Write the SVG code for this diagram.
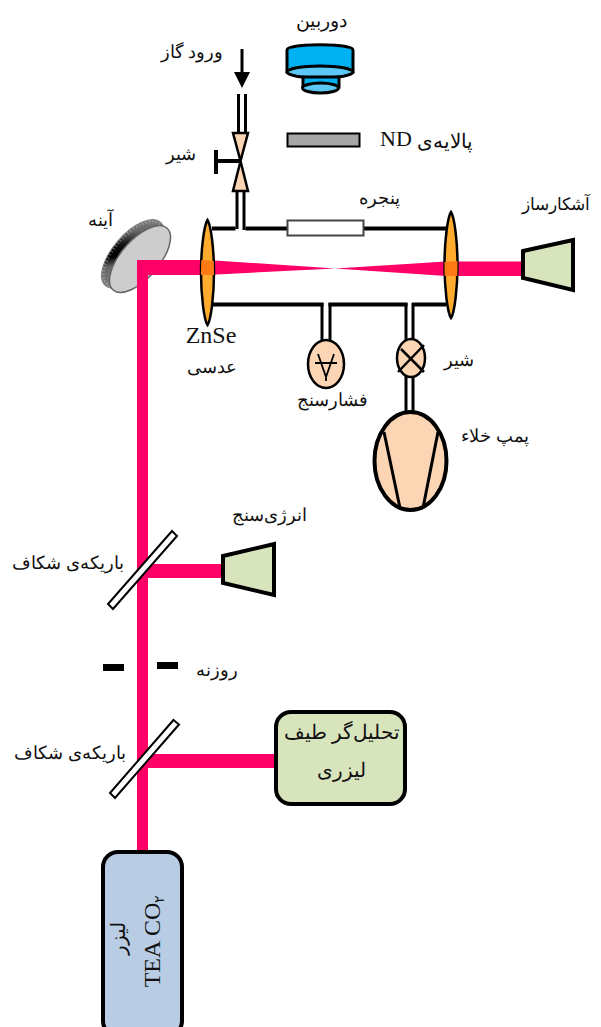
<svg xmlns="http://www.w3.org/2000/svg" width="601" height="1027" viewBox="0 0 601 1027">
<style>
.t{font-family:"Liberation Serif","Noto Sans",serif;font-size:17.500px;fill:#111;text-anchor:middle;direction:rtl}
.l{font-family:"Liberation Serif",serif;fill:#111;text-anchor:middle}
.s{stroke:#000;fill:none}
.p{stroke:#000;stroke-width:3;fill:none}
.b{fill:#ff0066}
.lens{fill:#ffab2e;stroke:#000;stroke-width:2.5}
.det{fill:#d8e4bc;stroke:#000;stroke-width:4}
.peach{fill:#fcd5b5;stroke:#000}
.bs{fill:#fff;stroke:#000;stroke-width:2}
</style>
<defs>
<linearGradient id="rim" gradientUnits="userSpaceOnUse" x1="100" y1="287" x2="165" y2="217">
<stop offset="0" stop-color="#999"/><stop offset=".38" stop-color="#666"/><stop offset=".48" stop-color="#000"/><stop offset=".6" stop-color="#111"/><stop offset=".72" stop-color="#666"/><stop offset="1" stop-color="#aaa"/>
</linearGradient>
<clipPath id="c1"><path d="M207.500 220C211 225 214 250 214 272.500C214 295 211 320 207.500 325C204 320 201 295 201 272.500C201 250 204 225 207.500 220z"/></clipPath>
<clipPath id="c2"><path d="M451 212C454.500 217 457.500 242 457.500 265C457.500 288 454.500 313 451 318C447.500 313 444.500 288 444.500 265C444.500 242 447.500 217 451 212z"/></clipPath>
</defs>

<g id="connectors">
<path class="s" stroke-width="3" d="M242 49V74"/>
<path d="M234 72H250L242 88z"/>
<path class="p" d="M238.500 94V134M245.500 94V134M237 190V229M244 190V230"/>
<path class="s" stroke-width="4" d="M212 228.500H235.500M245.500 228.500H288M363 228.500H446M212 304.500H323.500M328.500 304.500H407.500M412 304.500H446"/>
<path class="p" d="M322 303V342M330 303V342M406 303V342M413 303V342M406 376V414M413 376V414"/>
</g>

<g id="beams">
<path class="b" d="M137 852V260H208V275H148V852z"/>
<path class="b" d="M207 260L335 268.500L446 261.500H523V276H446L335 268.500L207 275z"/>
<rect class="b" x="148" y="564" width="75" height="14"/>
<rect class="b" x="148" y="754" width="128" height="14"/>
</g>

<g id="camera">
<path d="M287 50C287 43 353 43 353 50V72H287z" fill="#00b0f0" stroke="#000" stroke-width="3"/>
<ellipse cx="320" cy="72" rx="33" ry="6" fill="#5cc8f5" stroke="#000" stroke-width="3"/>
<path d="M303 77H339V87H303z" fill="#00b0f0" stroke="#000" stroke-width="3"/>
<ellipse cx="320.500" cy="88" rx="18" ry="5" fill="#5cc8f5" stroke="#000" stroke-width="3"/>
</g>
<g id="nd-filter"><rect x="287.500" y="133.500" width="72" height="13" fill="#a6a6a6" stroke="#000" stroke-width="2"/></g>
<g id="gas-valve">
<path d="M233 133H248L240.500 161L248 191H233L240.500 161z" fill="#fcd5b5" stroke="#000" stroke-width="2.500"/>
<path class="s" stroke-width="4" d="M240.500 161H218M216 150V174"/>
</g>
<g id="mirror">
<ellipse cx="133" cy="254" rx="42" ry="20" transform="rotate(-49 133 254)" fill="url(#rim)" stroke="#777" stroke-width="1"/>
<ellipse cx="133" cy="254" rx="40" ry="18.500" transform="rotate(-49 133 254)" fill="none" stroke="#ddd" stroke-width="3" stroke-opacity=".35" stroke-dasharray="1.200 2.300"/>
<ellipse cx="140" cy="259" rx="41" ry="19" transform="rotate(-49 140 259)" fill="#cdcdcd" stroke="#666" stroke-width="1.500"/>
</g>
<path class="b" d="M137 300V260H175V275H148V300z"/>
<g id="lens-1">
<path class="lens" d="M207.500 220C211 225 214 250 214 272.500C214 295 211 320 207.500 325C204 320 201 295 201 272.500C201 250 204 225 207.500 220z"/>
<path d="M200 260L215 261V275H200z" fill="#ff7a14" clip-path="url(#c1)"/>
</g>
<g id="lens-2">
<path class="lens" d="M451 212C454.500 217 457.500 242 457.500 265C457.500 288 454.500 313 451 318C447.500 313 444.500 288 444.500 265C444.500 242 447.500 217 451 212z"/>
<path d="M444 262L458 261V276H444z" fill="#ff7a14" clip-path="url(#c2)"/>
</g>
<g id="window"><rect x="287.500" y="220.500" width="76" height="15" fill="#fff" stroke="#444" stroke-width="2"/></g>
<g id="detector"><path class="det" d="M523 251L573 240V290L523 278z"/></g>
<g id="gauge">
<ellipse class="peach" stroke-width="2.500" cx="326" cy="364" rx="18" ry="24"/>
<path class="s" stroke-width="1.800" d="M315 363H337M318 354L326 377L334 354M326 377V381"/>
</g>
<g id="vac-valve">
<ellipse class="peach" stroke-width="2.500" cx="411" cy="358" rx="14" ry="19"/>
<path class="s" stroke-width="2.500" d="M401 349L424 372M424 345L398 372"/>
</g>
<g id="pump">
<ellipse class="peach" stroke-width="4" cx="410.500" cy="461" rx="36" ry="49"/>
<path class="s" stroke-width="3" d="M384 432L400 508M438 432L423 508"/>
</g>
<g id="energy-meter"><path class="det" d="M223 556L274 544V595L223 583z"/></g>
<g id="splitter-1"><path class="bs" d="M172 531L177 536L113 609L108 604z"/></g>
<g id="splitter-2"><path class="bs" d="M173.500 720L179 724.500L115 798L110 793z"/></g>
<g id="iris"><rect x="103" y="664" width="21" height="7"/><rect x="157" y="662" width="21" height="7"/></g>
<g id="analyzer"><rect x="276" y="712" width="129" height="92" rx="15" fill="#d8e4bc" stroke="#000" stroke-width="4"/></g>
<g id="laser"><rect x="103" y="852" width="79" height="184" rx="15" fill="#b8cce4" stroke="#000" stroke-width="4"/></g>

<g id="labels">
<text class="t" x="321" y="27" style="font-size:19px">دوربین</text>
<text class="t" x="192" y="58">ورود گاز</text>
<text class="t" x="181" y="160">شیر</text>
<text class="t" x="100" y="226">آینه</text>
<text class="t" x="379" y="204">پنجره</text>
<text class="t" x="445" y="148" style="font-size:20px">پالایه‌ی</text>
<text class="l" x="396" y="146" font-size="22">ND</text>
<text class="t" x="556" y="210" style="font-size:17px">آشکارساز</text>
<text class="l" x="211" y="343" font-size="24">ZnSe</text>
<text class="t" x="212" y="373">عدسی</text>
<text class="t" x="332" y="406">فشارسنج</text>
<text class="t" x="459" y="366">شیر</text>
<text class="t" x="495" y="442">پمپ خلاء</text>
<text class="t" x="269" y="521">انرژی‌سنج</text>
<text class="t" x="68" y="569">باریکه‌ی شکاف</text>
<text class="t" x="217" y="676">روزنه</text>
<text class="t" x="70" y="759">باریکه‌ی شکاف</text>
<text class="t" x="342" y="739" style="font-size:19.500px">تحلیل‌گر طیف</text>
<text class="t" x="341" y="777" style="font-size:19.500px">لیزری</text>
<text class="t" transform="translate(125 938) rotate(-90)" style="font-size:20px">لیزر</text>
<text class="l" transform="translate(160 941) rotate(-90)" font-size="24">TEA CO<tspan font-size="14" dy="4" font-family="Noto Sans">۲</tspan></text>
</g>
</svg>
